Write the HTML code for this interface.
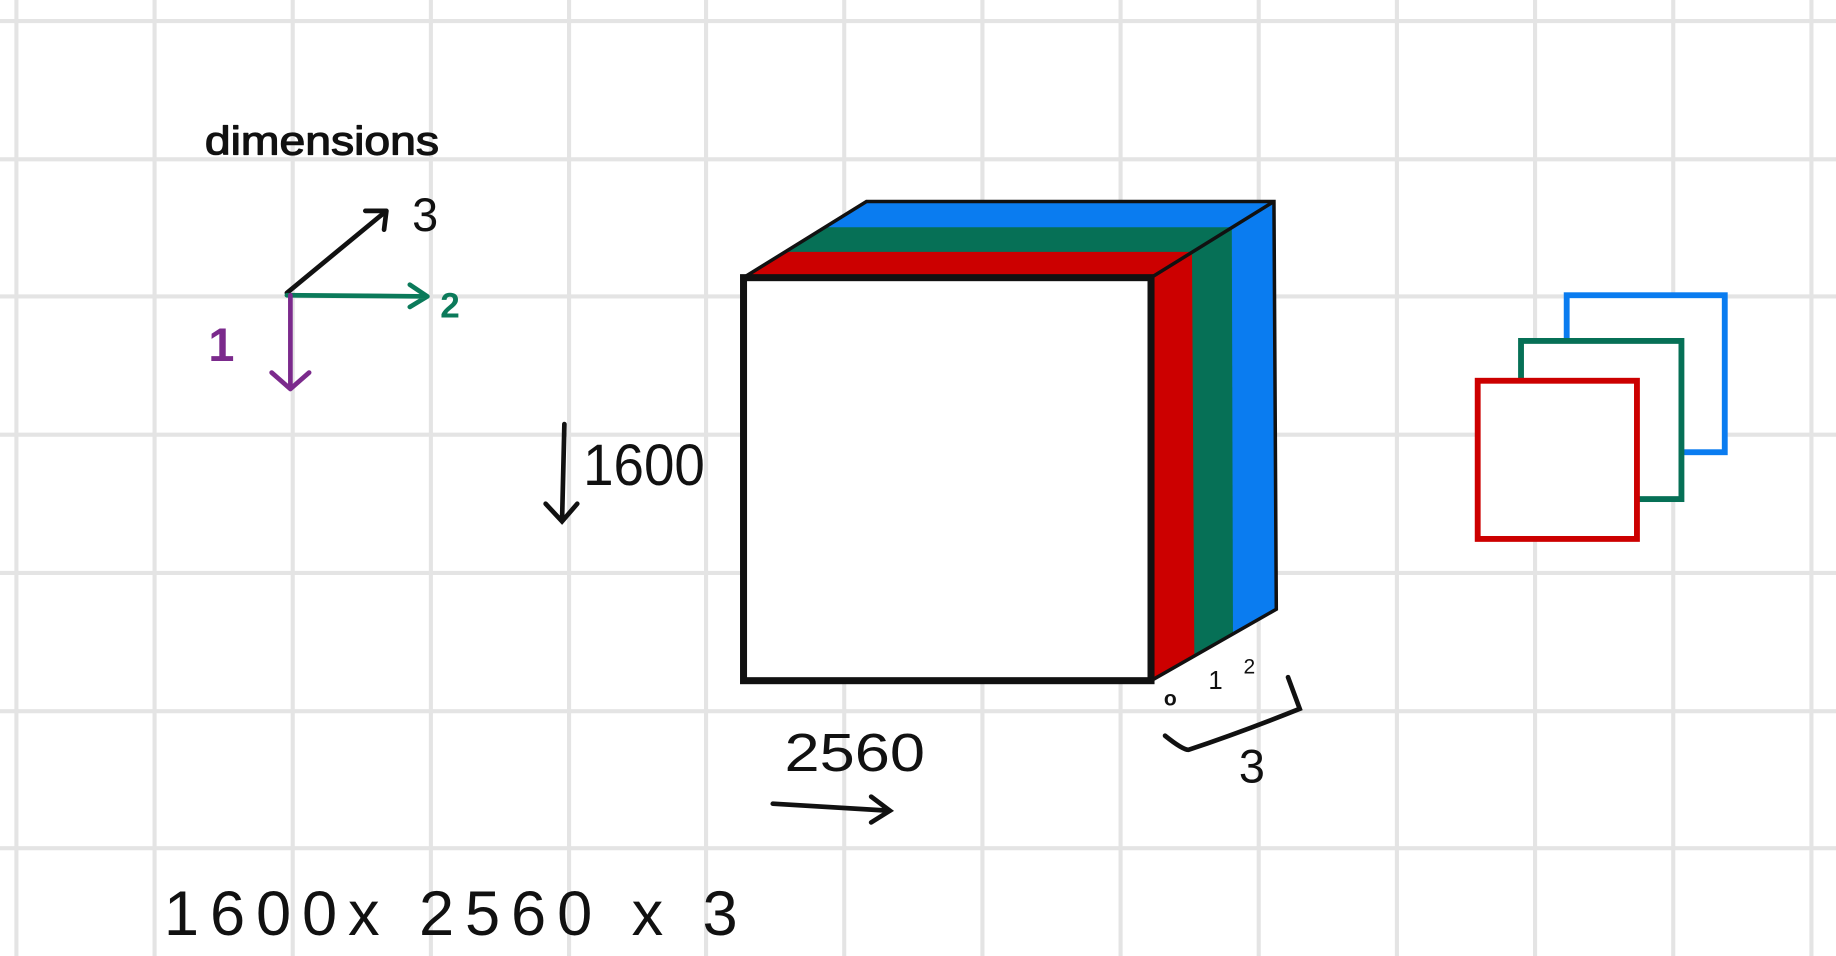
<!DOCTYPE html>
<html><head><meta charset="utf-8"><style>
html,body{margin:0;padding:0;background:#fff;}
svg{display:block;}
text{font-family:"Liberation Sans",sans-serif;}
</style></head><body>
<svg id="s" width="1836" height="956" viewBox="0 0 1568 816" preserveAspectRatio="none">
<rect width="1568" height="816" fill="#fff"/>
<g id="grid"></g>

<g fill="none" stroke-width="4" stroke-linecap="round" stroke-linejoin="round">
<text x="175" y="132" font-size="34" textLength="200" lengthAdjust="spacingAndGlyphs" fill="#111" stroke="#111" stroke-width="1">dimensions</text>
<path d="M245 250 L330 180 M312 180 L330 180 L328 196" stroke="#111"/>
<text x="352" y="197" font-size="40" fill="#111" stroke="none">3</text>
<path d="M245 252 L365 253 M350 243 L365 253 L350 262" stroke="#0b7a5a"/>
<text x="376" y="271" font-size="30" font-weight="bold" fill="#0b7a5a" stroke="none">2</text>
<path d="M248 252 L248 332 M232 318 L248 332 L264 318" stroke="#7b2a8c"/>
<text x="178" y="308" font-size="40" font-weight="bold" fill="#7b2a8c" stroke="none">1</text>
</g>

<g>
<polygon points="635,237 740,172 1088,172 983,237" fill="#0a7cf0"/>
<polygon points="635,237 704,194 1052,194 983,237" fill="#067056"/>
<polygon points="635,237 670,215 1018,215 983,237" fill="#cc0000"/>
<polygon points="983,237 1088,172 1090,520 983,581" fill="#0a7cf0"/>
<polygon points="983,237 1052,194 1053,541 983,581" fill="#067056"/>
<polygon points="983,237 1018,215 1020,560 983,581" fill="#cc0000"/>
<rect x="635" y="237" width="348" height="344" fill="#fff" stroke="#111" stroke-width="6"/>
<polyline points="635,237 740,172 1088,172 1090,520 983,581" fill="none" stroke="#111" stroke-width="3"/>
<line x1="983" y1="237" x2="1088" y2="172" stroke="#111" stroke-width="3"/>
</g>

<g fill="#111">
<text x="994" y="602" font-size="18" font-weight="bold">o</text>
<text x="1032" y="588" font-size="22">1</text>
<text x="1062" y="575" font-size="18">2</text>
<path d="M995 628 Q1010 640 1015 640 Q1060 625 1110 605 L1100 578" fill="none" stroke="#111" stroke-width="4" stroke-linecap="round"/>
<text x="1058" y="668" font-size="40">3</text>
</g>

<g>
<path d="M482 362 L480 445 M466 430 L480 445 L493 430" fill="none" stroke="#111" stroke-width="4" stroke-linecap="round"/>
<text x="498" y="414" font-size="50" textLength="104" lengthAdjust="spacingAndGlyphs" fill="#111">1600</text>
</g>
<g>
<text x="670" y="658" font-size="46" textLength="120" lengthAdjust="spacingAndGlyphs" fill="#111">2560</text>
<path d="M660 686 L760 692 M744 680 L760 692 L744 702" fill="none" stroke="#111" stroke-width="4" stroke-linecap="round"/>
</g>

<g fill="#fff" stroke-width="5">
<rect x="1338" y="252" width="135" height="134" stroke="#0a7cf0"/>
<rect x="1299" y="291" width="137" height="135" stroke="#067056"/>
<rect x="1262" y="325" width="136" height="135" stroke="#cc0000"/>
</g>

<text x="140" y="798" font-size="54" fill="#111" textLength="490" lengthAdjust="spacing">1600x  2560 x 3</text>
</svg>
<script>
const gridXs=[14,132,250,368,486,603,721,839,957,1075,1193,1311,1429,1547];
const gridYs=[18,136,253,371,489,607,724];
const g=document.getElementById('grid');
const NS='http://www.w3.org/2000/svg';
gridXs.forEach(x=>{const l=document.createElementNS(NS,'line');
l.setAttribute('x1',x);l.setAttribute('x2',x);l.setAttribute('y1',0);l.setAttribute('y2',816);
l.setAttribute('stroke','#e4e4e4');l.setAttribute('stroke-width','3.5');


g.appendChild(l);});
gridYs.forEach(y=>{const l=document.createElementNS(NS,'line');
l.setAttribute('y1',y);l.setAttribute('y2',y);l.setAttribute('x1',0);l.setAttribute('x2',1568);
l.setAttribute('stroke','#e4e4e4');l.setAttribute('stroke-width','3.5');


g.appendChild(l);});
</script>
</body></html>
